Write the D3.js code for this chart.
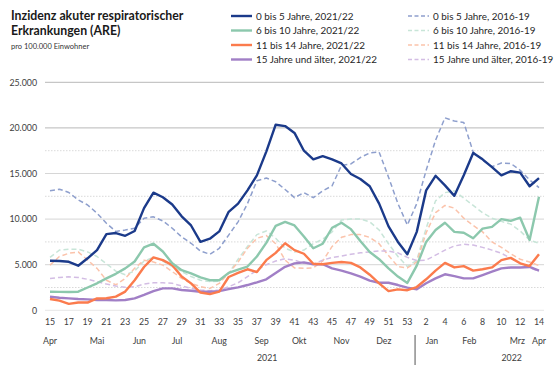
<!DOCTYPE html>
<html>
<head>
<meta charset="utf-8">
<script src="https://cdn.jsdelivr.net/npm/d3@7"></script>
<style>
  html, body { margin: 0; padding: 0; background: #fff; }
  svg { display: block; font-family: Lato, "Liberation Sans", sans-serif; }
</style>
</head>
<body>
<svg id="chart" width="554" height="365"></svg>
<script>
// Calendar weeks: 2021 week 15 to week 53, then 2022 week 1 to week 14
const weeks2021 = d3.range(15, 54);
const weeks2022 = d3.range(1, 15);
const weekKeys = [
  ...weeks2021.map(w => "2021-" + w),
  ...weeks2022.map(w => "2022-" + w)
];
const weekLabels = [...weeks2021, ...weeks2022].map(String);

// ARE incidence per 100,000, season 2021/22
const age0to5_2122 = [5430, 5400, 5320, 4890, 5700, 6600, 8350, 8470, 8170, 8700, 11200, 12900, 12400, 11600, 10300, 9300, 7500, 7850, 8650, 10800, 11700, 13150, 14800, 17400, 20350, 20200, 19450, 17500, 16550, 16900, 16550, 16100, 14950, 14400, 13600, 11700, 9200, 7500, 6150, 8600, 13150, 14750, 13700, 12550, 14800, 17250, 16550, 15700, 14800, 15250, 15100, 13600, 14500];
const age6to10_2122 = [2040, 2020, 2000, 2040, 2500, 2960, 3500, 4000, 4600, 5350, 6900, 7300, 6450, 5150, 4400, 4050, 3600, 3300, 3300, 4100, 4450, 4800, 5900, 7400, 9250, 9700, 9300, 8100, 6800, 7300, 9050, 9600, 8900, 7600, 6400, 5600, 4600, 3700, 3000, 4900, 7500, 8800, 9600, 8600, 8500, 7900, 8950, 9150, 10000, 9800, 10150, 7700, 12450];
const age11to14_2122 = [1240, 1060, 700, 850, 850, 1300, 1320, 1500, 2050, 3300, 4750, 5800, 5500, 4950, 3700, 2950, 1950, 1780, 2050, 3650, 4100, 4500, 4200, 5500, 6300, 7350, 6600, 6200, 5100, 5050, 5200, 5300, 5200, 4700, 3900, 2950, 2100, 2300, 2200, 2550, 3400, 4350, 5200, 4700, 4850, 4350, 4500, 4700, 5500, 5750, 5150, 4850, 6150];
const age15plus_2122 = [1490, 1380, 1310, 1240, 1200, 1130, 1130, 1090, 1130, 1310, 1680, 2100, 2400, 2400, 2220, 2150, 2040, 2040, 2100, 2330, 2520, 2770, 3070, 3400, 4100, 4770, 5150, 5250, 5050, 5050, 4600, 4350, 4050, 3700, 3250, 3020, 3020, 2770, 2480, 2300, 2960, 3500, 3950, 3750, 3500, 3500, 3870, 4230, 4600, 4700, 4700, 4750, 4350];

// Reference: mean of seasons 2016-19
const age0to5_1619 = [13100, 13280, 12920, 12100, 11550, 10650, 9550, 8650, 8800, 9000, 10100, 10250, 9800, 9000, 8050, 7350, 6500, 6150, 6800, 8250, 9700, 11700, 14200, 14500, 14100, 13250, 12350, 12900, 12350, 13100, 13650, 15900, 16050, 16750, 17250, 17350, 14600, 11700, 9350, 11700, 15350, 18650, 21100, 20750, 20600, 17350, 16450, 15750, 16150, 16100, 15350, 14300, 13450];
const age6to10_1619 = [5800, 6600, 6700, 6700, 6400, 5900, 5100, 4300, 3900, 4300, 5400, 5800, 5400, 4800, 4250, 3700, 3300, 3150, 3200, 4050, 5600, 7000, 8300, 8700, 7900, 6800, 6400, 6600, 7300, 7800, 8600, 9900, 10000, 10000, 9700, 8800, 7300, 5900, 4800, 5500, 9000, 12000, 12900, 13100, 12300, 11500, 10700, 10100, 9750, 9450, 8700, 7700, 7350];
const age11to14_1619 = [4950, 5900, 6250, 6400, 5500, 4600, 3300, 2800, 3500, 4600, 5500, 5300, 4950, 4250, 3500, 2950, 2600, 2400, 2950, 4050, 5300, 6800, 7900, 8200, 7300, 5500, 4650, 4600, 4650, 5400, 7000, 8000, 8300, 8300, 8000, 7300, 6000, 4800, 4650, 5300, 8500, 10700, 11500, 11200, 10100, 9300, 8600, 7500, 6900, 6200, 5600, 5300, 4900];
const age15plus_1619 = [3500, 3600, 3680, 3600, 3400, 3130, 2880, 2660, 2520, 2580, 2880, 3020, 3020, 2960, 2660, 2410, 2220, 2150, 2220, 2590, 3020, 3680, 4400, 5000, 5400, 5650, 5500, 5150, 5050, 5500, 5800, 5950, 6150, 6300, 6400, 6500, 6500, 6300, 5800, 5450, 5500, 6050, 6600, 7050, 7250, 7150, 6900, 6600, 6250, 5700, 5150, 4700, 4250];

const yTicks = [0, 5000, 10000, 15000, 20000, 25000];
const yMinor = [2500, 7500, 12500, 17500];

// Month labels, placed at a (fractional) position on the week axis
const months = [
  { label: "Apr", at: 0 }, { label: "Mai", at: 5 }, { label: "Jun", at: 9.5 },
  { label: "Jul", at: 13.5 }, { label: "Aug", at: 18 }, { label: "Sep", at: 22.5 },
  { label: "Okt", at: 26.5 }, { label: "Nov", at: 31 }, { label: "Dez", at: 35.5 },
  { label: "Jan", at: 40.6 }, { label: "Feb", at: 44.6 }, { label: "Mrz", at: 49.7 },
  { label: "Apr", at: 52 }
];
const years = [{ label: "2021", at: 23.1 }, { label: "2022", at: 49.1 }];

const series = [
  { name: "0 bis 5 Jahre, 2021/22", values: age0to5_2122, color: "#1b3a8a", width: 2.4, dash: null, col: 0 },
  { name: "6 bis 10 Jahre, 2021/22", values: age6to10_2122, color: "#8cc8ad", width: 2.4, dash: null, col: 0 },
  { name: "11 bis 14 Jahre, 2021/22", values: age11to14_2122, color: "#fb7b4d", width: 2.4, dash: null, col: 0 },
  { name: "15 Jahre und älter, 2021/22", values: age15plus_2122, color: "#a17fc6", width: 2.4, dash: null, col: 0 },
  { name: "0 bis 5 Jahre, 2016-19", values: age0to5_1619, color: "#8e9fcd", width: 1.5, dash: "5,3", col: 1 },
  { name: "6 bis 10 Jahre, 2016-19", values: age6to10_1619, color: "#c8e5d8", width: 1.5, dash: "5,3", col: 1 },
  { name: "11 bis 14 Jahre, 2016-19", values: age11to14_1619, color: "#fbc3ab", width: 1.5, dash: "5,3", col: 1 },
  { name: "15 Jahre und älter, 2016-19", values: age15plus_1619, color: "#d3bde4", width: 1.5, dash: "5,3", col: 1 }
];

const svg = d3.select("#chart");
const plotLeft = 45, plotRight = 544, plotTop = 82.3, plotBottom = 310.3;

const x = d3.scalePoint().domain(weekKeys).range([50, 539]);
const xIdx = d3.scaleLinear().domain([0, weekKeys.length - 1]).range([50, 539]);
const y = d3.scaleLinear().domain([0, 25000]).range([plotBottom, plotTop]);

// Title block
svg.append("text").attr("x", 11).attr("y", 20)
  .attr("font-size", 12.3).attr("font-weight", "bold").attr("fill", "#1a1a1a")
  .text("Inzidenz akuter respiratorischer");
svg.append("text").attr("x", 11).attr("y", 35)
  .attr("font-size", 12.3).attr("font-weight", "bold").attr("fill", "#1a1a1a")
  .text("Erkrankungen (ARE)");
svg.append("text").attr("x", 11).attr("y", 49)
  .attr("font-size", 7.5).attr("fill", "#333")
  .text("pro 100.000 Einwohner");

// Gridlines
svg.append("g").selectAll("line").data(yMinor).join("line")
  .attr("x1", plotLeft).attr("x2", plotRight)
  .attr("y1", d => y(d)).attr("y2", d => y(d))
  .attr("stroke", "#cfcfcf").attr("stroke-width", 0.8).attr("stroke-dasharray", "1.5,1.5");
svg.append("g").selectAll("line").data(yTicks).join("line")
  .attr("x1", plotLeft).attr("x2", plotRight)
  .attr("y1", d => y(d)).attr("y2", d => y(d))
  .attr("stroke", d => d >= 20000 ? "#b8b8b8" : (d === 0 ? "#e6e6e6" : "#d6d6d6"))
  .attr("stroke-width", 1);

// Y axis labels
const fmt = d3.formatLocale({ decimal: ",", thousands: ".", grouping: [3], currency: ["", "€"] }).format(",d");
svg.append("g").selectAll("text").data(yTicks).join("text")
  .attr("x", 37).attr("y", d => y(d) + 3.2)
  .attr("text-anchor", "end").attr("font-size", 8.8).attr("fill", "#404040")
  .text(d => fmt(d));

// Lines: reference seasons below, current season on top
const line = d3.line().x((d, i) => x(weekKeys[i])).y(d => y(d));
const order = [4, 5, 6, 7, 3, 2, 1, 0];
svg.append("g").selectAll("path").data(order.map(i => series[i])).join("path")
  .attr("d", d => line(d.values))
  .attr("fill", "none")
  .attr("stroke", d => d.color)
  .attr("stroke-width", d => d.width)
  .attr("stroke-dasharray", d => d.dash)
  .attr("stroke-linejoin", "round");

// Week tick labels (every second week)
svg.append("g").selectAll("text")
  .data(weekKeys.filter((k, i) => i % 2 === 0))
  .join("text")
  .attr("x", d => x(d)).attr("y", 325)
  .attr("text-anchor", "middle").attr("font-size", 8.8).attr("fill", "#404040")
  .text(d => weekLabels[weekKeys.indexOf(d)]);

// Month and year labels
svg.append("g").selectAll("text").data(months).join("text")
  .attr("x", d => xIdx(d.at)).attr("y", 344)
  .attr("text-anchor", "middle").attr("font-size", 8.8).attr("fill", "#404040")
  .text(d => d.label);
svg.append("g").selectAll("text").data(years).join("text")
  .attr("x", d => xIdx(d.at)).attr("y", 361)
  .attr("text-anchor", "middle").attr("font-size", 8.8).attr("fill", "#404040")
  .text(d => d.label);

// Year boundary
const yearEdge = (x("2021-53") + x("2022-1")) / 2 + 3;
svg.append("line").attr("x1", yearEdge).attr("x2", yearEdge)
  .attr("y1", 335).attr("y2", 365).attr("stroke", "#555").attr("stroke-width", 1);

// Legend, two columns
const legendX = [231, 408];
const rowY = [16, 30.5, 45, 59.5];
const lg = svg.append("g").selectAll("g").data(series).join("g")
  .attr("transform", (d, i) => `translate(${legendX[d.col]},${rowY[i % 4]})`);
lg.append("line").attr("x1", 0).attr("x2", 21)
  .attr("stroke", d => d.color).attr("stroke-width", d => d.dash ? 1.5 : 2.4)
  .attr("stroke-dasharray", d => d.dash ? "4,2.5" : null);
lg.append("text").attr("x", 25).attr("y", 3.5)
  .attr("font-size", 9.9).attr("fill", "#262626")
  .text(d => d.name);
</script>
</body>
</html>
